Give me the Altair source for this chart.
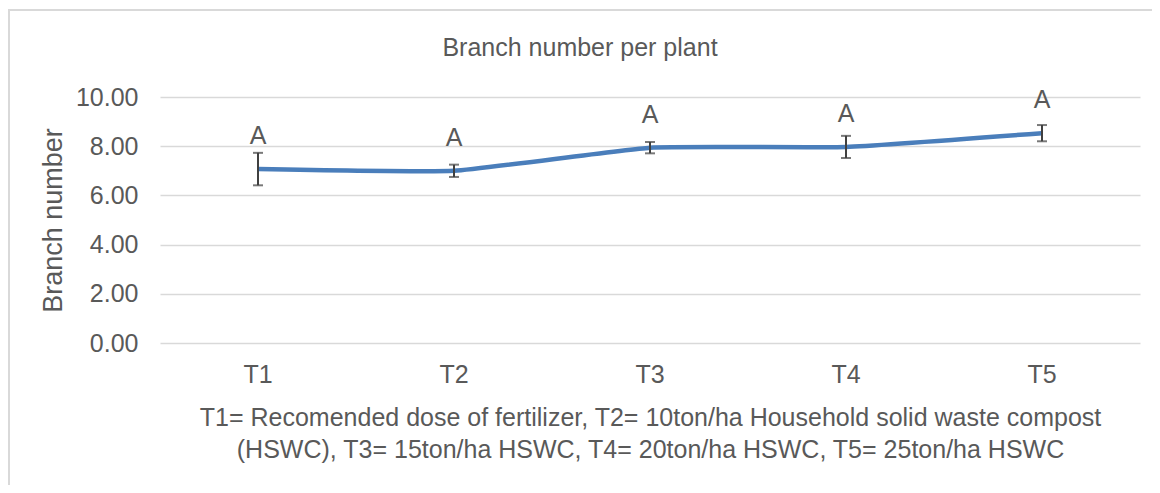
import altair as alt
import pandas as pd

treatments = ["T1", "T2", "T3", "T4", "T5"]
means = [7.07, 7.00, 7.94, 7.97, 8.53]
errors = [0.66, 0.25, 0.23, 0.45, 0.33]
letters = ["A", "A", "A", "A", "A"]
chart_title = "Branch number per plant"

df = pd.DataFrame({"t": treatments, "m": means, "e": errors, "lab": letters})
df["lo"] = df["m"] - df["e"]
df["hi"] = df["m"] + df["e"]

FONT = "Liberation Sans"
TXT = "#595959"
FS = 25

x = alt.X("t:N", sort=treatments,
          axis=alt.Axis(labelAngle=0, labelFontSize=FS, labelColor=TXT, labelFont=FONT,
                        labelPadding=19, domain=False, ticks=False,
                        title=["T1= Recomended dose of fertilizer, T2= 10ton/ha Household solid waste compost",
                               "(HSWC), T3= 15ton/ha HSWC, T4= 20ton/ha HSWC, T5= 25ton/ha HSWC"],
                        titleFontSize=FS, titleColor=TXT, titleFont=FONT, titleFontWeight="normal",
                        titleLineHeight=32, titlePadding=18))

yscale = alt.Scale(domain=[0, 10])
yaxis = alt.Axis(values=[0, 2, 4, 6, 8, 10], format=".2f", labelFontSize=FS, labelColor=TXT,
                 labelFont=FONT, labelPadding=22, domain=False, ticks=False,
                 gridColor="#d9d9d9", gridWidth=1.5,
                 title="Branch number", titleFontSize=27, titleColor=TXT, titleFont=FONT,
                 titleFontWeight="normal", titlePadding=8)

base = alt.Chart(df)

border = base.mark_rect(fill=None, stroke="#d9d9d9", strokeWidth=2).encode(
    x=alt.value(-151), y=alt.value(-87), x2=alt.value(1100), y2=alt.value(500)
).transform_filter("datum.t == 'T1'")

title = base.mark_text(fontSize=FS, font=FONT, color=TXT, baseline="middle", align="center").encode(
    x=alt.value(420), y=alt.value(-49), text=alt.value(chart_title)
).transform_filter("datum.t == 'T1'")

line = base.mark_line(interpolate="cardinal", tension=0.6, strokeWidth=4.5, color="#4a7ebb").encode(
    x=x, y=alt.Y("m:Q", scale=yscale, axis=yaxis))

rule = base.mark_rule(color="#404040", strokeWidth=2).encode(
    x=alt.X("t:N", sort=treatments), y="lo:Q", y2="hi:Q")

caps_lo = base.mark_tick(color="#404040", thickness=2, size=10).encode(
    x=alt.X("t:N", sort=treatments), y="lo:Q")
caps_hi = base.mark_tick(color="#404040", thickness=2, size=10).encode(
    x=alt.X("t:N", sort=treatments), y="hi:Q")

text = base.mark_text(fontSize=FS, font=FONT, color=TXT, baseline="alphabetic", dy=-25).encode(
    x=alt.X("t:N", sort=treatments), y="m:Q", text="lab:N")

chart = alt.layer(border, title, line, rule, caps_lo, caps_hi, text).properties(
    width=980, height=246,
    autosize=alt.AutoSizeParams(type="none"),
    padding={"left": 152, "top": 89, "right": 12, "bottom": 142},
).configure_view(stroke=None)

chart.save("out.html", embed_options={"renderer": "svg", "actions": False})
